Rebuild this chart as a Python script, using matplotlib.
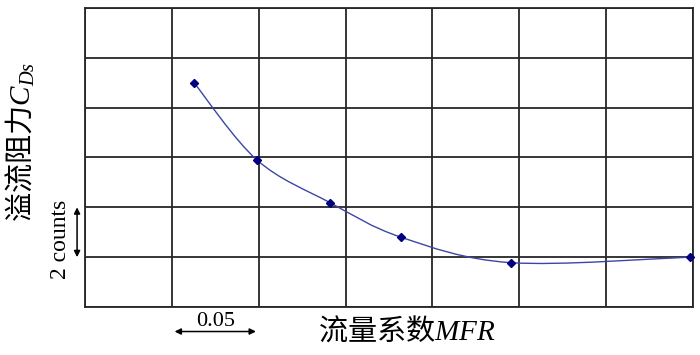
import matplotlib
matplotlib.use("Agg")
import matplotlib.pyplot as plt
import numpy as np
from matplotlib.path import Path
from matplotlib.patches import PathPatch

# Data (x: MFR, y: C_Ds in counts)
mfr = np.array([0.063, 0.099, 0.141, 0.182, 0.245, 0.348])
cds = np.array([8.98, 5.90, 4.19, 2.80, 1.78, 2.00])

x_ticks = np.arange(0, 0.351, 0.05)
y_ticks = np.arange(0, 12.1, 2)

plt.rcParams['mathtext.fontset'] = 'custom'
plt.rcParams['mathtext.it'] = 'Liberation Serif:italic'
plt.rcParams['mathtext.rm'] = 'Liberation Serif'

fig = plt.figure(figsize=(7, 3.55), dpi=100)
ax = fig.add_axes([0.1214, 0.1352, 0.8686, 0.8423])
ax.set_xlim(0, 0.35)
ax.set_ylim(0, 12)

ax.set_xticks(x_ticks)
ax.set_yticks(y_ticks)
ax.tick_params(length=0, labelbottom=False, labelleft=False)
ax.grid(True, color='#262626', linewidth=1.3)
for s in ax.spines.values():
    s.set_color('#262626')
    s.set_linewidth(1.3)

# smoothed line (Catmull-Rom style Bezier, like Excel's smoothed line)
pts = np.column_stack([mfr, cds])
ext = np.vstack([pts[0], pts, pts[-1]])
verts = [tuple(pts[0])]
codes = [Path.MOVETO]
for i in range(len(pts) - 1):
    p0, p1, p2, p3 = ext[i], ext[i + 1], ext[i + 2], ext[i + 3]
    c1 = p1 + (p2 - p0) / 6
    c2 = p2 - (p3 - p1) / 6
    verts += [tuple(c1), tuple(c2), tuple(p2)]
    codes += [Path.CURVE4] * 3
ax.add_patch(PathPatch(Path(verts, codes), facecolor='none',
                       edgecolor='#3c46a6', linewidth=1.0, zorder=3))
ax.plot(mfr, cds, linestyle='none', marker='D', markersize=4,
        color='#000080', zorder=4, clip_on=False)

# scale indicators
xt = ax.get_xaxis_transform()
yt = ax.get_yaxis_transform()
ax.annotate('', xy=(0.05, -0.082), xytext=(0.10, -0.082), xycoords=xt,
            arrowprops=dict(arrowstyle='<|-|>', color='black', lw=1.1,
                            mutation_scale=9, shrinkA=2, shrinkB=2),
            annotation_clip=False)
ax.text(0.075, -0.05, '0.05', transform=xt, ha='center', va='center',
        fontsize=16, family='Liberation Serif')
ax.annotate('', xy=(-0.013, 2), xytext=(-0.013, 4), xycoords=yt,
            arrowprops=dict(arrowstyle='<|-|>', color='black', lw=1.1,
                            mutation_scale=9, shrinkA=0, shrinkB=0),
            annotation_clip=False)
ax.text(-0.041, 2.7, '2 counts', transform=yt, rotation=90, ha='center',
        va='center', fontsize=17, family='Liberation Serif')

fig.text(0.581, 0.068, '流量系数$MFR$', ha='center', va='center',
         fontsize=21, family='Noto Sans CJK SC')
fig.text(0.03, 0.60, '溢流阻力$C_{Ds}$', ha='center', va='center',
         rotation=90, fontsize=21, family='Noto Sans CJK SC')

fig.savefig('out.png', dpi=100)
